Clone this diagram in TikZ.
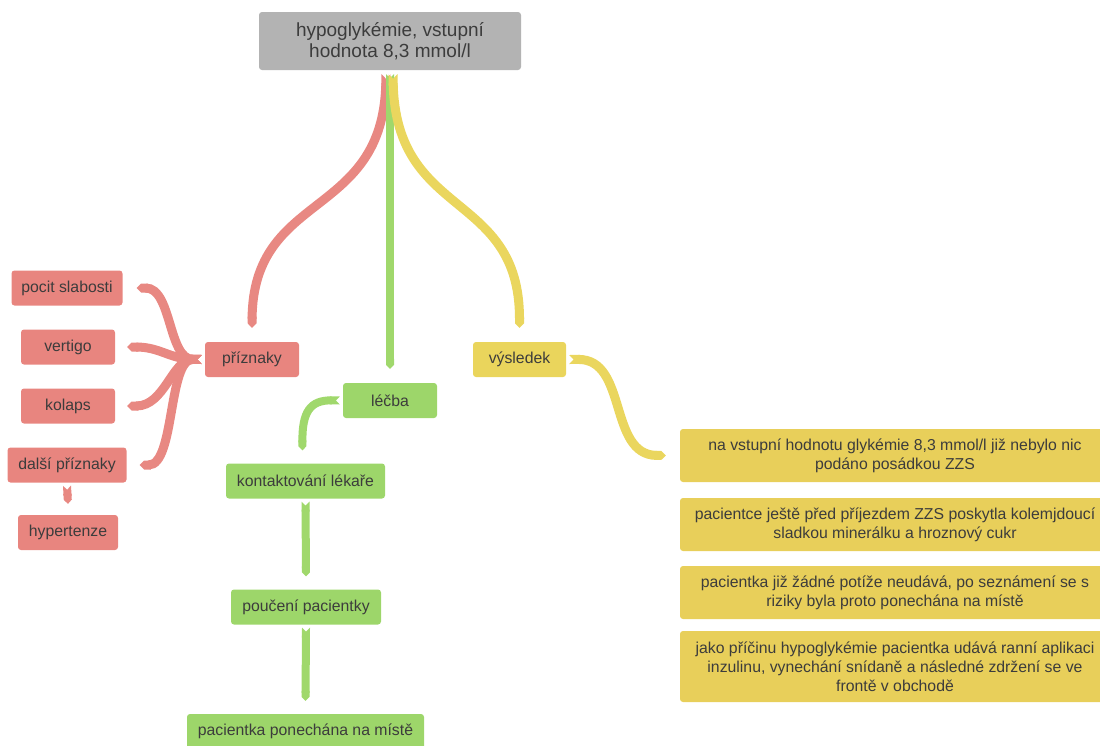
\documentclass[tikz,border=0pt]{standalone}
\usepackage{fontspec}
\setmainfont{Liberation Sans}
\usetikzlibrary{arrows.meta,calc}
\definecolor{rednode}{HTML}{E8857F}
\definecolor{redline}{HTML}{E88882}
\definecolor{greennode}{HTML}{9DD66A}
\definecolor{greenline}{HTML}{A0D86C}
\definecolor{yellownode}{HTML}{EAD55C}
\definecolor{yellowbox}{HTML}{E8CF5A}
\definecolor{yellowline}{HTML}{EAD65E}
\definecolor{graynode}{HTML}{B3B3B3}
\definecolor{txt}{HTML}{3C3C3C}
\begin{document}
\begin{tikzpicture}[x=1pt,y=-1pt,
  basebox/.style={rectangle, rounded corners=3pt, minimum height=35pt, inner sep=2pt,
    text=txt, font=\fontsize{15.8}{19}\selectfont, align=center},
  rbox/.style={basebox, fill=rednode},
  gbox/.style={basebox, fill=greennode},
  ybox/.style={basebox, fill=yellownode},
  ytext/.style={basebox, fill=yellowbox, minimum width=430pt},
  ribbon/.style={line width=9pt, {Triangle Cap[reversed]}-{Triangle Cap}},
  rc/.style={ribbon, draw=redline},
  gc/.style={ribbon, draw=greenline, line width=8pt},
  yc/.style={ribbon, draw=yellowline},
]
\useasboundingbox (0,0) rectangle (1100,745);

\node[basebox, fill=graynode, minimum width=262pt, minimum height=58pt,
      font=\fontsize{19}{21}\selectfont, text=txt] (top) at (390,41)
      {hypoglykémie, vstupní\\hodnota 8,3 mmol/l};

\node[rbox, minimum width=111pt] (ps) at (67,288) {pocit slabosti};
\node[rbox, minimum width=94pt] (ve) at (68,347) {vertigo};
\node[rbox, minimum width=94pt] (ko) at (68,406) {kolaps};
\node[rbox, minimum width=119pt] (da) at (67,465) {další příznaky};
\node[rbox, minimum width=100pt] (hy) at (68,532.5) {hypertenze};
\node[rbox, minimum width=94pt] (pr) at (252,359.5) {příznaky};

\node[gbox, minimum width=94pt] (le) at (390,400.5) {léčba};
\node[gbox, minimum width=159pt] (kl) at (305.5,481) {kontaktování lékaře};
\node[gbox, minimum width=150pt] (pp) at (306,607) {poučení pacientky};
\node[gbox, minimum width=237pt] (pm) at (305.5,731.5) {pacientka ponechána na místě};

\node[ybox, minimum width=93pt] (vy) at (519.5,359.5) {výsledek};
\node[ytext, minimum height=53pt] (y1) at (895,455.5)
  {na vstupní hodnotu glykémie 8,3 mmol/l již nebylo nic\\podáno posádkou ZZS};
\node[ytext, minimum height=53pt] (y2) at (895,524.5)
  {pacientce ještě před příjezdem ZZS poskytla kolemjdoucí\\sladkou minerálku a hroznový cukr};
\node[ytext, minimum height=53pt] (y3) at (895,592.5)
  {pacientka již žádné potíže neudává, po seznámení se s\\riziky byla proto ponechána na místě};
\node[ytext, minimum height=71pt] (y4) at (895,666.5)
  {jako příčinu hypoglykémie pacientka udává ranní aplikaci\\inzulinu, vynechání snídaně a následné zdržení se ve\\frontě v obchodě};

% top connectors
\draw[rc] ($(top.south)+(-4,4)$) .. controls (383,220) and (253,190) .. ($(pr.north)+(0,-14)$);
\draw[gc] ($(top.south)+(0,4)$) -- ($(le.north)+(0,-14)$);
\draw[yc] ($(top.south)+(3,4)$) .. controls (396,220) and (519.5,190) .. ($(vy.north)+(0,-14)$);

% red children
\draw[rc] ($(pr.west)+(-3,0)$) .. controls (168,359) and (172,288) .. ($(ps.east)+(14,0)$);
\draw[rc] ($(pr.west)+(-3,0)$) .. controls (170,359) and (160,347) .. ($(ve.east)+(12,0)$);
\draw[rc] ($(pr.west)+(-3,0)$) .. controls (172,359) and (165,406) .. ($(ko.east)+(12,0)$);
\draw[rc] ($(pr.west)+(-3,0)$) .. controls (168,359) and (175,465) .. ($(da.east)+(13,0)$);
\draw[rc, line width=8pt] ($(da.south)+(0,3)$) -- ($(hy.north)+(0,-11)$);

% green chain
\draw[gc] ($(le.west)+(-3,0)$) .. controls (310,400) and (302,412) .. ($(kl.north)+(-3,-13)$);
\draw[gc] ($(kl.south)+(0,3)$) -- ($(pp.north)+(0,-13)$);
\draw[gc] ($(pp.south)+(0,3)$) -- ($(pm.north)+(0,-13)$);

% yellow
\draw[yc] ($(vy.east)+(3,0)$) .. controls (628,359) and (608,455) .. ($(y1.west)+(-14,0)$);
\end{tikzpicture}
\end{document}
